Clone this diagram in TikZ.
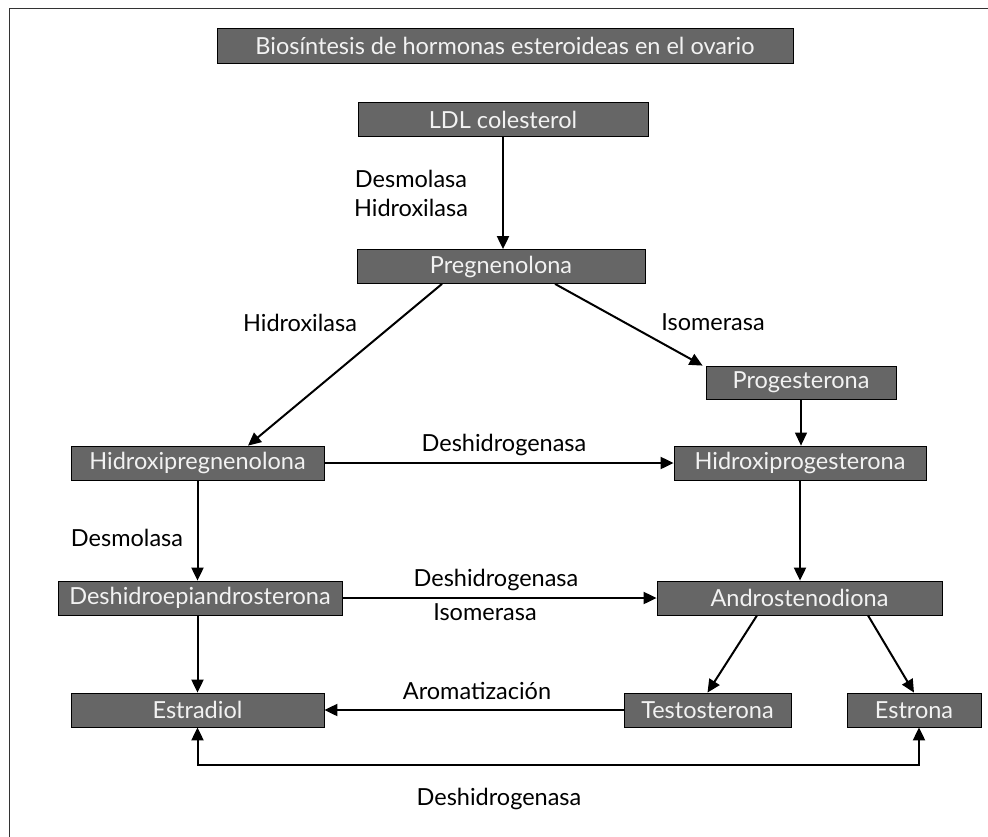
\documentclass[tikz,border=0pt]{standalone}
\usepackage{fontspec}
\setmainfont{Lato}
\usetikzlibrary{arrows.meta,calc}
\definecolor{boxgray}{HTML}{666666}
\definecolor{boxtext}{HTML}{F2F2F2}
\begin{document}
\begin{tikzpicture}[x=1pt,y=-1pt,
	box/.style={draw=black, line width=0.8pt, fill=boxgray, text=boxtext, minimum height=34pt, inner sep=0pt, font=\fontsize{23.5}{26}\selectfont},
	lbl/.style={inner sep=0pt, align=center, font=\fontsize{23.5}{29}\selectfont},
	flow/.style={line width=2pt, -{Triangle[length=13pt,width=12pt]}}]
	\clip (0,0) rectangle (988,836);
	%Frame
	\draw[line width=1pt, black!80] (9,8) rectangle (1000,850);
	
	%Title
	\node[box, minimum width=576pt, minimum height=35pt] (title) at (505,45.5) {Biosíntesis de hormonas esteroideas en el ovario};
	
	%Hormones
	\node[box, minimum width=290pt] (ldl) at (503,119.5) {LDL colesterol};
	\node[box, minimum width=288pt] (preg) at (501,266.5) {Pregnenolona};
	\node[box, minimum width=190pt, minimum height=33pt] (prog) at (801,382.5) {Progesterona};
	\node[box, minimum width=253pt] (hpreg) at (197.5,463) {Hidroxipregnenolona};
	\node[box, minimum width=252pt] (hprog) at (800,463) {Hidroxiprogesterona};
	\node[box, minimum width=284pt] (dhea) at (200,598) {Deshidroepiandrosterona};
	\node[box, minimum width=285pt] (andro) at (799.5,598) {Androstenodiona};
	\node[box, minimum width=253pt] (estradiol) at (197.5,710) {Estradiol};
	\node[box, minimum width=167pt] (testo) at (707.5,710) {Testosterona};
	\node[box, minimum width=134pt] (estrona) at (914,710) {Estrona};
	
	%Enzymes
	\node[lbl] (desmHidr) at (411,193.5) {Desmolasa\\Hidroxilasa};
	\node[lbl] (hidrox) at (300,323) {Hidroxilasa};
	\node[lbl] (isom) at (713,322) {Isomerasa};
	\node[lbl] (deshA) at (504,445) {Deshidrogenasa};
	\node[lbl] (desm) at (127,538) {Desmolasa};
	\node[lbl] (deshB) at (496,580) {Deshidrogenasa};
	\node[lbl] (isomB) at (485,612) {Isomerasa};
	\node[lbl] (arom) at (477,691) {Aromatización};
	\node[lbl] (deshC) at (499,799) {Deshidrogenasa};
	
	%Arrows
	\draw[flow] (ldl.south) -- (ldl.south |- preg.north);
	\draw[flow] ($(preg.south)+(-59,0)$) -- ($(hpreg.north)+(50.5,0)$);
	\draw[flow] ($(preg.south)+(54,0)$) -- ($(prog.north west)+(-3,0)$);
	\draw[flow, line width=1.2pt] (prog.south) -- (prog.south |- hprog.north);
	\draw[flow] (hpreg.east) -- (hprog.west);
	\draw[flow] (hpreg.south) -- (hpreg.south |- dhea.north);
	\draw[flow] (hprog.south) -- (hprog.south |- andro.north);
	\draw[flow] (dhea.east) -- (andro.west);
	\draw[flow] (estradiol.north |- dhea.south) -- (estradiol.north);
	\draw[flow] ($(andro.south)+(-42.5,0)$) -- (testo.north);
	\draw[flow] ($(andro.south)+(68.5,0)$) -- (estrona.north);
	\draw[flow] (testo.west) -- (estradiol.east);
	\draw[flow, {Triangle[length=13pt,width=12pt]}-{Triangle[length=13pt,width=12pt]}] (estradiol.south) -- ++(0,38) -| ($(estrona.south)+(5,0)$);
\end{tikzpicture}
\end{document}
